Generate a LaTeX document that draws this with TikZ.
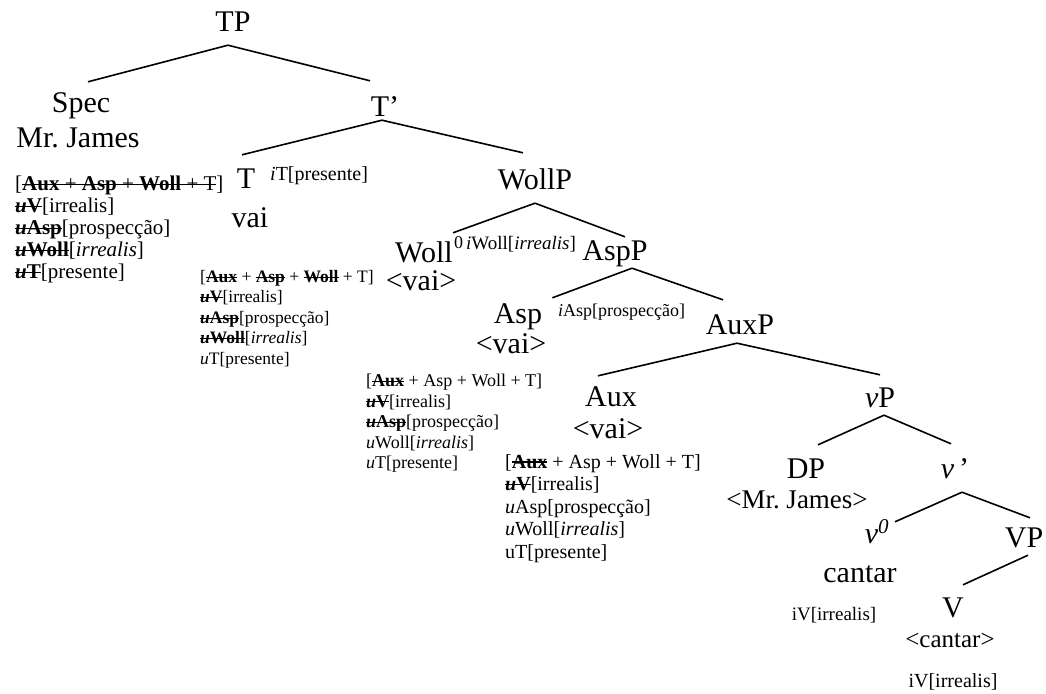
\documentclass[tikz,border=0pt]{standalone}
\usepackage{fontspec}
\setmainfont{Liberation Serif}
\newsavebox{\strikebox}
\newcommand{\strikeout}[1]{\sbox{\strikebox}{#1}\rlap{\rule[0.27em]{\wd\strikebox}{0.06em}}\usebox{\strikebox}}
\newcommand{\struck}[1]{\strikeout{\textbf{#1}}}
\newcommand{\fsz}[2]{\fontsize{#1}{#2}\selectfont}

\begin{document}
\begin{tikzpicture}[
  x=1pt,y=-1pt,
  big/.style={font=\fsz{30}{32},inner sep=0pt,text height=20pt,text depth=0pt,anchor=base},
  feat/.style={align=left,anchor=north west,inner sep=0pt},
  sup/.style={font=\fsz{17}{18},inner sep=0pt,anchor=base west},
  branch/.style={line width=1.6pt}
]
  \useasboundingbox (0,0) rectangle (1046,693);

  % upper part
  \node[big] (tp) at (233,32) {TP};
  \node[big] (spec) at (81,112) {Spec};
  \node[big] (james) at (78,147) {Mr.\ James};
  \node[big] (tbar) at (385,116) {T’};
  \node[big] (t) at (246,188) {T};
  \node[sup,font=\fsz{20}{20}] (tfeat) at (270,180) {\textit{i}T[presente]};
  \node[big] (vai1) at (250,227) {vai};

  \node[feat,font=\fsz{21}{22}] (feat1) at (15,176) {%
    [\strikeout{\textbf{Aux} + \textbf{Asp} + \textbf{Woll} + T}]\\
    \struck{\textit{u}V}[irrealis]\\
    \struck{\textit{u}Asp}[prospecção]\\
    \struck{\textit{u}Woll}[\textit{irrealis}]\\
    \struck{\textit{u}T}[presente]};
  \node[feat,font=\fsz{17.5}{20.5}] (feat2) at (200,270) {%
    [\struck{Aux} + \struck{Asp} + \struck{Woll} + T]\\
    \struck{\textit{u}V}[irrealis]\\
    \struck{\textit{u}Asp}[prospecção]\\
    \struck{\textit{u}Woll}[\textit{irrealis}]\\
    \textit{u}T[presente]};

  % WollP and AspP
  \node[big] (wollp) at (535,189) {WollP};
  \node[big] (woll) at (424,262) {Woll};
  \node[sup,font=\fsz{18}{18}] (wollzero) at (454,248) {0};
  \node[sup,font=\fsz{19}{19}] (wollfeat) at (466,249) {\textit{i}Woll[\textit{irrealis}]};
  \node[big] (vai2) at (421,290) {<vai>};
  \node[big] (aspp) at (615,260) {AspP};
  \node[big] (asp) at (518,323) {Asp};
  \node[sup,font=\fsz{18}{18}] (aspfeat) at (558,316) {\textit{i}Asp[prospecção]};
  \node[big] (vai3) at (511,353) {<vai>};

  \node[feat,font=\fsz{18}{20.5}] (feat3) at (366,374) {%
    [\struck{Aux} + Asp + Woll + T]\\
    \struck{\textit{u}V}[irrealis]\\
    \struck{\textit{u}Asp}[prospecção]\\
    \textit{u}Woll[\textit{irrealis}]\\
    \textit{u}T[presente]};

  % AuxP
  \node[big] (auxp) at (740,334) {AuxP};
  \node[big] (aux) at (611,406) {Aux};
  \node[big] (vai4) at (608,438) {<vai>};
  \node[feat,font=\fsz{20}{22.5}] (feat4) at (505,454) {%
    [\struck{Aux} + Asp + Woll + T]\\
    \struck{\textit{u}V}[irrealis]\\
    \textit{u}Asp[prospecção]\\
    \textit{u}Woll[\textit{irrealis}]\\
    uT[presente]};

  % vP
  \node[big] (vp) at (880,407) {\textit{v}P};
  \node[big] (dp) at (806,478) {DP};
  \node[big,font=\fsz{27}{28}] (james2) at (797,508) {<Mr.\ James>};
  \node[big] (vbar) at (955,478) {\textit{v}\,’};
  \node[big] (vzero) at (877,543) {\textit{v}\textsuperscript{\textit{0}}};
  \node[big] (cantar) at (860,582) {cantar};
  \node[big,font=\fsz{19}{20}] (vfeat1) at (834,620) {iV[irrealis]};
  \node[big] (vp2) at (1024,547) {VP};
  \node[big] (v) at (953,617) {V};
  \node[big,font=\fsz{25}{26}] (cantar2) at (950,647) {<cantar>};
  \node[big,font=\fsz{20}{20}] (vfeat2) at (953,687) {iV[irrealis]};

  % branches
  \draw[branch] ([shift={(-5,13)}]tp.south) -- ([shift={(7,-10)}]spec.north);
  \draw[branch] ([shift={(-5,13)}]tp.south) -- ([shift={(-15,-15)}]tbar.north);
  \draw[branch] ([shift={(-3,4)}]tbar.south) -- ([shift={(-4,-13)}]t.north);
  \draw[branch] ([shift={(-3,4)}]tbar.south) -- ([shift={(-12,-16)}]wollp.north);
  \draw[branch] ([shift={(0,14)}]wollp.south) -- ([shift={(0,-9)}]woll.north east);
  \draw[branch] ([shift={(0,14)}]wollp.south) -- ([shift={(10,-3)}]aspp.north);
  \draw[branch] ([shift={(17,8)}]aspp.south) -- ([shift={(10,-5)}]asp.north east);
  \draw[branch] ([shift={(17,8)}]aspp.south) -- ([shift={(-17,-14)}]auxp.north);
  \draw[branch] ([shift={(-3,9)}]auxp.south) -- ([shift={(-13,-10)}]aux.north);
  \draw[branch] ([shift={(-3,9)}]auxp.south) -- ([shift={(0,-12)}]vp.north);
  \draw[branch] ([shift={(4,8)}]vp.south) -- ([shift={(12,-13)}]dp.north);
  \draw[branch] ([shift={(4,8)}]vp.south) -- ([shift={(-4,-14)}]vbar.north);
  \draw[branch] ([shift={(7,14)}]vbar.south) -- ([shift={(18,-1)}]vzero.north);
  \draw[branch] ([shift={(7,14)}]vbar.south) -- ([shift={(6,-9)}]vp2.north);
  \draw[branch] ([shift={(4,8)}]vp2.south) -- ([shift={(10,-12)}]v.north);
\end{tikzpicture}
\end{document}
